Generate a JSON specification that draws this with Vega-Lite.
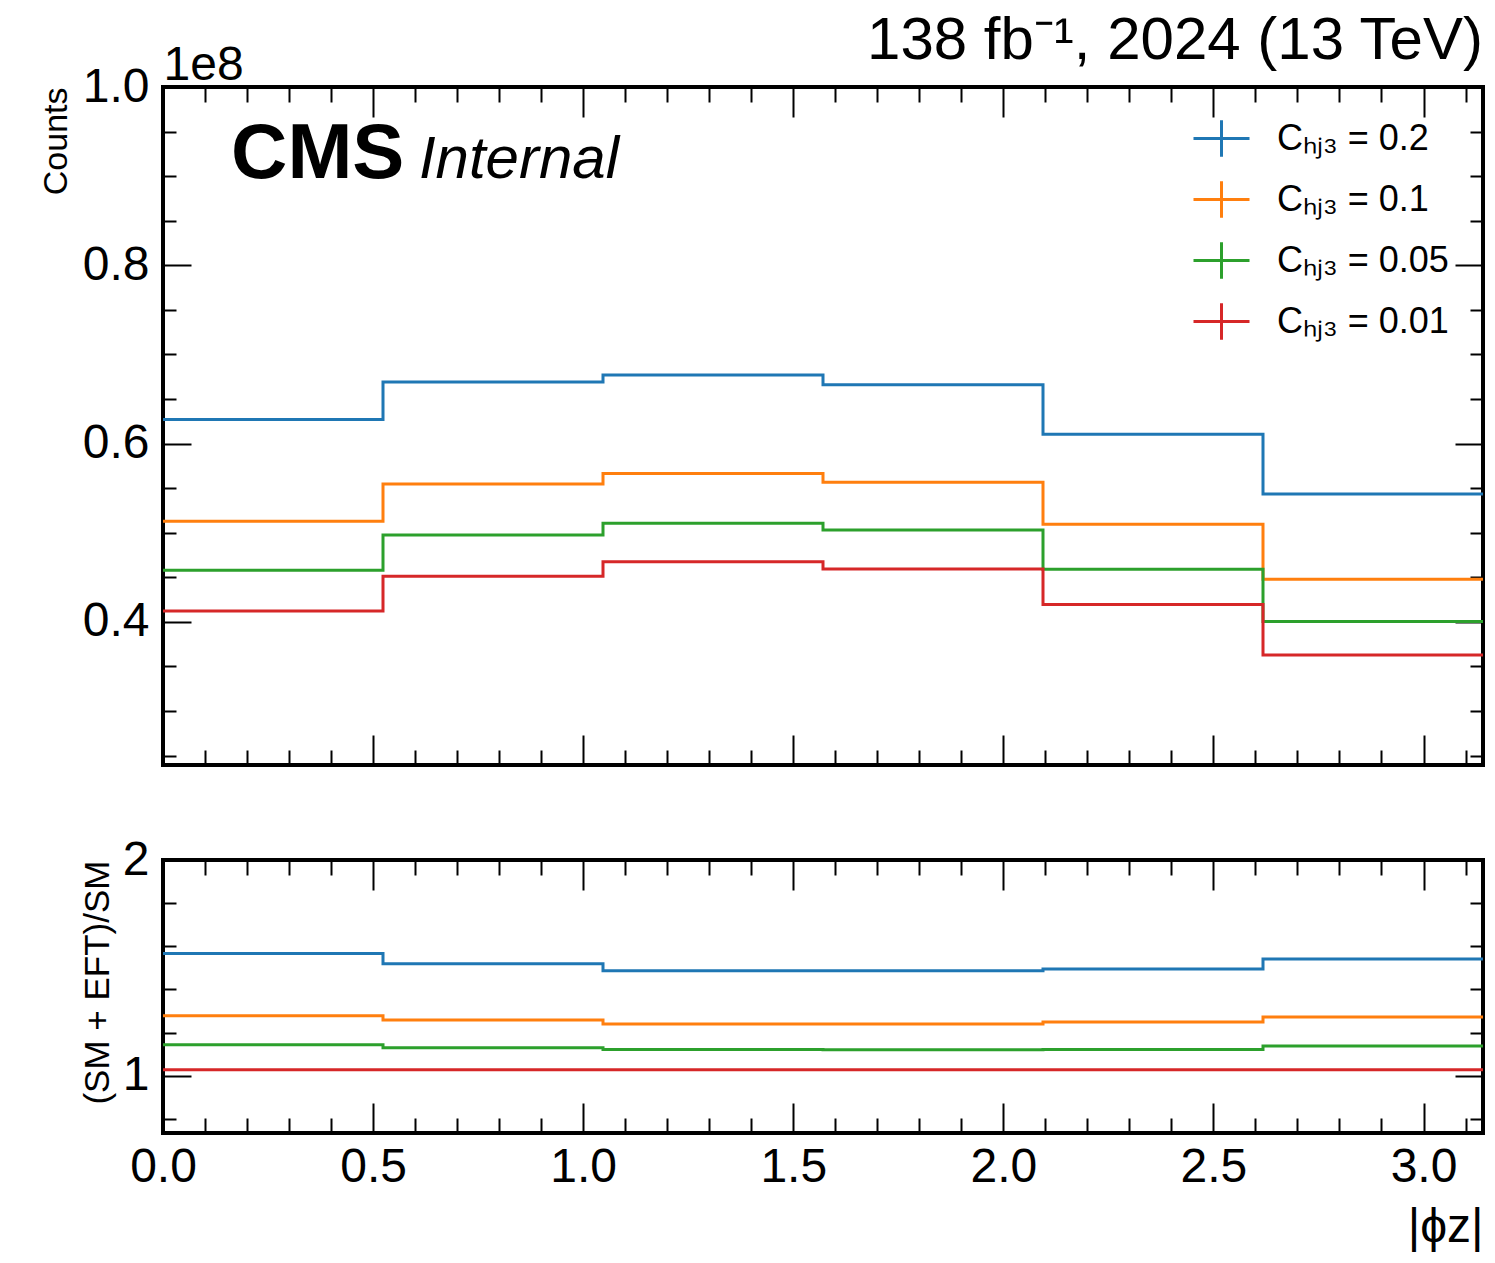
{
  "$schema": "https://vega.github.io/schema/vega-lite/v6.json",
  "background": "white",
  "padding": {"left": 37, "top": 9, "right": 10, "bottom": 4},
  "config": {
    "font": "Liberation Sans",
    "view": {"stroke": "black", "strokeWidth": 4},
    "axis": {"grid": false, "domain": false, "tickColor": "black", "tickWidth": 2, "labelColor": "black", "titleColor": "black", "labelFont": "Liberation Sans", "titleFont": "Liberation Sans", "labelFontSize": 48, "titleFontWeight": "normal", "labelFlush": false, "labelOverlap": false},
    "line": {"strokeWidth": 3, "interpolate": "step-after"}
  },
  "datasets": {
    "hist": [
      {"phi": 0, "counts": 62690000, "c": "Cₕⱼ₃ = 0.2"},
      {"phi": 0.5236, "counts": 66910000, "c": "Cₕⱼ₃ = 0.2"},
      {"phi": 1.0472, "counts": 67690000, "c": "Cₕⱼ₃ = 0.2"},
      {"phi": 1.5708, "counts": 66610000, "c": "Cₕⱼ₃ = 0.2"},
      {"phi": 2.0944, "counts": 61040000, "c": "Cₕⱼ₃ = 0.2"},
      {"phi": 2.618, "counts": 54350000, "c": "Cₕⱼ₃ = 0.2"},
      {"phi": 3.1416, "counts": 54350000, "c": "Cₕⱼ₃ = 0.2"},
      {"phi": 0, "counts": 51290000, "c": "Cₕⱼ₃ = 0.1"},
      {"phi": 0.5236, "counts": 55470000, "c": "Cₕⱼ₃ = 0.1"},
      {"phi": 1.0472, "counts": 56640000, "c": "Cₕⱼ₃ = 0.1"},
      {"phi": 1.5708, "counts": 55660000, "c": "Cₕⱼ₃ = 0.1"},
      {"phi": 2.0944, "counts": 50950000, "c": "Cₕⱼ₃ = 0.1"},
      {"phi": 2.618, "counts": 44790000, "c": "Cₕⱼ₃ = 0.1"},
      {"phi": 3.1416, "counts": 44790000, "c": "Cₕⱼ₃ = 0.1"},
      {"phi": 0, "counts": 45800000, "c": "Cₕⱼ₃ = 0.05"},
      {"phi": 0.5236, "counts": 49750000, "c": "Cₕⱼ₃ = 0.05"},
      {"phi": 1.0472, "counts": 51060000, "c": "Cₕⱼ₃ = 0.05"},
      {"phi": 1.5708, "counts": 50310000, "c": "Cₕⱼ₃ = 0.05"},
      {"phi": 2.0944, "counts": 45910000, "c": "Cₕⱼ₃ = 0.05"},
      {"phi": 2.618, "counts": 40040000, "c": "Cₕⱼ₃ = 0.05"},
      {"phi": 3.1416, "counts": 40040000, "c": "Cₕⱼ₃ = 0.05"},
      {"phi": 0, "counts": 41230000, "c": "Cₕⱼ₃ = 0.01"},
      {"phi": 0.5236, "counts": 45120000, "c": "Cₕⱼ₃ = 0.01"},
      {"phi": 1.0472, "counts": 46730000, "c": "Cₕⱼ₃ = 0.01"},
      {"phi": 1.5708, "counts": 45940000, "c": "Cₕⱼ₃ = 0.01"},
      {"phi": 2.0944, "counts": 41950000, "c": "Cₕⱼ₃ = 0.01"},
      {"phi": 2.618, "counts": 36280000, "c": "Cₕⱼ₃ = 0.01"},
      {"phi": 3.1416, "counts": 36280000, "c": "Cₕⱼ₃ = 0.01"}
    ],
    "ratio": [
      {"phi": 0, "ratio": 1.566, "c": "Cₕⱼ₃ = 0.2"},
      {"phi": 0.5236, "ratio": 1.519, "c": "Cₕⱼ₃ = 0.2"},
      {"phi": 1.0472, "ratio": 1.486, "c": "Cₕⱼ₃ = 0.2"},
      {"phi": 1.5708, "ratio": 1.486, "c": "Cₕⱼ₃ = 0.2"},
      {"phi": 2.0944, "ratio": 1.494, "c": "Cₕⱼ₃ = 0.2"},
      {"phi": 2.618, "ratio": 1.541, "c": "Cₕⱼ₃ = 0.2"},
      {"phi": 3.1416, "ratio": 1.541, "c": "Cₕⱼ₃ = 0.2"},
      {"phi": 0, "ratio": 1.278, "c": "Cₕⱼ₃ = 0.1"},
      {"phi": 0.5236, "ratio": 1.258, "c": "Cₕⱼ₃ = 0.1"},
      {"phi": 1.0472, "ratio": 1.239, "c": "Cₕⱼ₃ = 0.1"},
      {"phi": 1.5708, "ratio": 1.239, "c": "Cₕⱼ₃ = 0.1"},
      {"phi": 2.0944, "ratio": 1.249, "c": "Cₕⱼ₃ = 0.1"},
      {"phi": 2.618, "ratio": 1.272, "c": "Cₕⱼ₃ = 0.1"},
      {"phi": 3.1416, "ratio": 1.272, "c": "Cₕⱼ₃ = 0.1"},
      {"phi": 0, "ratio": 1.143, "c": "Cₕⱼ₃ = 0.05"},
      {"phi": 0.5236, "ratio": 1.129, "c": "Cₕⱼ₃ = 0.05"},
      {"phi": 1.0472, "ratio": 1.121, "c": "Cₕⱼ₃ = 0.05"},
      {"phi": 1.5708, "ratio": 1.12, "c": "Cₕⱼ₃ = 0.05"},
      {"phi": 2.0944, "ratio": 1.121, "c": "Cₕⱼ₃ = 0.05"},
      {"phi": 2.618, "ratio": 1.137, "c": "Cₕⱼ₃ = 0.05"},
      {"phi": 3.1416, "ratio": 1.137, "c": "Cₕⱼ₃ = 0.05"},
      {"phi": 0, "ratio": 1.027, "c": "Cₕⱼ₃ = 0.01"},
      {"phi": 0.5236, "ratio": 1.027, "c": "Cₕⱼ₃ = 0.01"},
      {"phi": 1.0472, "ratio": 1.027, "c": "Cₕⱼ₃ = 0.01"},
      {"phi": 1.5708, "ratio": 1.027, "c": "Cₕⱼ₃ = 0.01"},
      {"phi": 2.0944, "ratio": 1.027, "c": "Cₕⱼ₃ = 0.01"},
      {"phi": 2.618, "ratio": 1.027, "c": "Cₕⱼ₃ = 0.01"},
      {"phi": 3.1416, "ratio": 1.027, "c": "Cₕⱼ₃ = 0.01"}
    ]
  },
  "bounds": "flush",
  "spacing": 95,
  "vconcat": [
    {
      "width": 1320,
      "height": 678,
      "title": {"text": "138 fb⁻¹, 2024 (13 TeV)", "anchor": "end", "frame": "group", "fontSize": 60, "fontWeight": "normal", "font": "Liberation Sans", "color": "black", "offset": -31},
      "data": {"name": "hist"},
      "layer": [
        {
          "mark": {"type": "line"},
          "encoding": {
            "x": {"field": "phi", "type": "quantitative", "scale": {"domain": [0, 3.14159265], "nice": false, "zero": false},
                  "axis": {"orient": "bottom", "values": [0, 0.5, 1, 1.5, 2, 2.5, 3], "tickSize": -30, "labels": false, "title": null}},
            "y": {"field": "counts", "type": "quantitative", "scale": {"domain": [23940000, 100000000], "nice": false, "zero": false},
                  "axis": {"orient": "left", "values": [40000000, 60000000, 80000000, 100000000], "tickSize": -28, "labelPadding": 42, "labelExpr": "format(datum.value/1e8, '.1f')", "title": "Counts", "titleFontSize": 34, "titleAnchor": "end", "titlePadding": 9}},
            "color": {"field": "c", "type": "nominal",
                      "scale": {"domain": ["Cₕⱼ₃ = 0.2", "Cₕⱼ₃ = 0.1", "Cₕⱼ₃ = 0.05", "Cₕⱼ₃ = 0.01"], "range": ["#1f77b4", "#ff7f0e", "#2ca02c", "#d62728"]},
                      "legend": {"title": null, "orient": "none", "legendX": 1029, "legendY": 22, "symbolType": "M-1,0H1M0,-0.65V0.65", "symbolSize": 3136, "symbolStrokeWidth": 3, "labelFontSize": 36, "labelFont": "Liberation Sans", "labelColor": "black", "labelOffset": 26, "labelLimit": 500, "rowPadding": 7}}
          }
        },
        {
          "mark": {"type": "line", "opacity": 0},
          "encoding": {
            "x": {"field": "phi", "type": "quantitative", "axis": {"orient": "bottom", "values": [0.1,0.2,0.3,0.4,0.6,0.7,0.8,0.9,1.1,1.2,1.3,1.4,1.6,1.7,1.8,1.9,2.1,2.2,2.3,2.4,2.6,2.7,2.8,2.9,3.1], "tickSize": -15, "labels": false, "title": null}},
            "y": {"field": "counts", "type": "quantitative", "axis": {"orient": "left", "values": [25000000,30000000,35000000,45000000,50000000,55000000,65000000,70000000,75000000,85000000,90000000,95000000], "tickSize": -13, "labels": false, "title": "1e8", "titleAngle": 0, "titleAlign": "left", "titleBaseline": "alphabetic", "titleX": 0, "titleY": -8, "titleFontSize": 48}},
            "detail": {"field": "c"}
          }
        },
        {
          "mark": {"type": "line", "opacity": 0},
          "encoding": {
            "x": {"field": "phi", "type": "quantitative", "axis": {"orient": "top", "values": [0, 0.5, 1, 1.5, 2, 2.5, 3], "tickSize": -30, "labels": false, "title": null}},
            "y": {"field": "counts", "type": "quantitative", "axis": {"orient": "right", "values": [40000000, 60000000, 80000000, 100000000], "tickSize": -28, "labels": false, "title": null}},
            "detail": {"field": "c"}
          }
        },
        {
          "mark": {"type": "line", "opacity": 0},
          "encoding": {
            "x": {"field": "phi", "type": "quantitative", "axis": {"orient": "top", "values": [0.1,0.2,0.3,0.4,0.6,0.7,0.8,0.9,1.1,1.2,1.3,1.4,1.6,1.7,1.8,1.9,2.1,2.2,2.3,2.4,2.6,2.7,2.8,2.9,3.1], "tickSize": -15, "labels": false, "title": null}},
            "y": {"field": "counts", "type": "quantitative", "axis": {"orient": "right", "values": [25000000,30000000,35000000,45000000,50000000,55000000,65000000,70000000,75000000,85000000,90000000,95000000], "tickSize": -13, "labels": false, "title": null}},
            "detail": {"field": "c"}
          }
        },
        {
          "data": {"values": [{"t": "CMS"}]},
          "mark": {"type": "text", "align": "left", "baseline": "alphabetic", "fontSize": 78, "fontWeight": "bold", "font": "Liberation Sans", "color": "black"},
          "encoding": {
            "x": {"datum": 0.162, "type": "quantitative", "axis": null},
            "y": {"datum": 89740000, "type": "quantitative", "axis": null},
            "text": {"field": "t"}
          }
        },
        {
          "data": {"values": [{"t": "Internal"}]},
          "mark": {"type": "text", "align": "left", "baseline": "alphabetic", "fontSize": 60, "fontStyle": "italic", "font": "Liberation Sans", "color": "black"},
          "encoding": {
            "x": {"datum": 0.609, "type": "quantitative", "axis": null},
            "y": {"datum": 89740000, "type": "quantitative", "axis": null},
            "text": {"field": "t"}
          }
        }
      ],
      "resolve": {"axis": {"x": "independent", "y": "independent"}}
    },
    {
      "width": 1320,
      "height": 273,
      "data": {"name": "ratio"},
      "layer": [
        {
          "mark": {"type": "line"},
          "encoding": {
            "x": {"field": "phi", "type": "quantitative", "scale": {"domain": [0, 3.14159265], "nice": false, "zero": false},
                  "axis": {"orient": "bottom", "values": [0, 0.5, 1, 1.5, 2, 2.5, 3], "format": ".1f", "tickSize": -30, "labelPadding": 40, "title": "|ϕz|", "titleFontSize": 48, "titleAnchor": "end", "titlePadding": 12}},
            "y": {"field": "ratio", "type": "quantitative", "scale": {"domain": [0.734, 2.0], "nice": false, "zero": false},
                  "axis": {"orient": "left", "values": [1, 2], "format": "d", "tickSize": -28, "labelPadding": 42, "title": "(SM + EFT)/SM", "titleFontSize": 35, "titleAnchor": "end", "titlePadding": 7}},
            "color": {"field": "c", "type": "nominal",
                      "scale": {"domain": ["Cₕⱼ₃ = 0.2", "Cₕⱼ₃ = 0.1", "Cₕⱼ₃ = 0.05", "Cₕⱼ₃ = 0.01"], "range": ["#1f77b4", "#ff7f0e", "#2ca02c", "#d62728"]},
                      "legend": null}
          }
        },
        {
          "mark": {"type": "line", "opacity": 0},
          "encoding": {
            "x": {"field": "phi", "type": "quantitative", "axis": {"orient": "bottom", "values": [0.1,0.2,0.3,0.4,0.6,0.7,0.8,0.9,1.1,1.2,1.3,1.4,1.6,1.7,1.8,1.9,2.1,2.2,2.3,2.4,2.6,2.7,2.8,2.9,3.1], "tickSize": -15, "labels": false, "title": null}},
            "y": {"field": "ratio", "type": "quantitative", "axis": {"orient": "left", "values": [0.8, 1.2, 1.4, 1.6, 1.8], "tickSize": -13, "labels": false, "title": null}},
            "detail": {"field": "c"}
          }
        },
        {
          "mark": {"type": "line", "opacity": 0},
          "encoding": {
            "x": {"field": "phi", "type": "quantitative", "axis": {"orient": "top", "values": [0, 0.5, 1, 1.5, 2, 2.5, 3], "tickSize": -30, "labels": false, "title": null}},
            "y": {"field": "ratio", "type": "quantitative", "axis": {"orient": "right", "values": [1, 2], "tickSize": -28, "labels": false, "title": null}},
            "detail": {"field": "c"}
          }
        },
        {
          "mark": {"type": "line", "opacity": 0},
          "encoding": {
            "x": {"field": "phi", "type": "quantitative", "axis": {"orient": "top", "values": [0.1,0.2,0.3,0.4,0.6,0.7,0.8,0.9,1.1,1.2,1.3,1.4,1.6,1.7,1.8,1.9,2.1,2.2,2.3,2.4,2.6,2.7,2.8,2.9,3.1], "tickSize": -15, "labels": false, "title": null}},
            "y": {"field": "ratio", "type": "quantitative", "axis": {"orient": "right", "values": [0.8, 1.2, 1.4, 1.6, 1.8], "tickSize": -13, "labels": false, "title": null}},
            "detail": {"field": "c"}
          }
        }
      ],
      "resolve": {"axis": {"x": "independent", "y": "independent"}}
    }
  ]
}
